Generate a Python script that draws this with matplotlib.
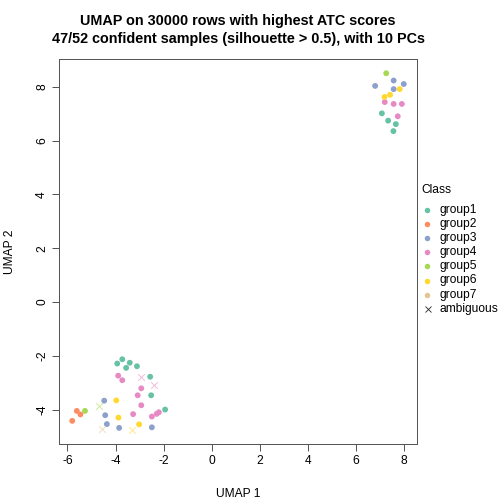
import matplotlib
matplotlib.use("Agg")
import matplotlib.pyplot as plt
from matplotlib.lines import Line2D

plt.rcParams['font.family'] = ['Liberation Sans', 'DejaVu Sans']

classes = ["group1", "group2", "group3", "group4", "group5", "group6", "group7"]
colors = ["#66C2A5", "#FC8D62", "#8DA0CB", "#E78AC3", "#A6D854", "#FFD92F", "#E5C494"]

# confident samples
g1_x = [7.07, 7.33, 7.65, 7.55, -3.72, -3.93, -3.41, -3.56, -3.11, -2.56, -2.52, -1.94]
g1_y = [7.01, 6.74, 6.61, 6.35, -2.13, -2.29, -2.26, -2.45, -2.39, -2.78, -3.47, -4.00]
g2_x = [-5.61, -5.46, -5.80]
g2_y = [-4.05, -4.18, -4.42]
g3_x = [7.56, 7.98, 6.79, 7.56, -4.47, -4.43, -4.36, -3.85, -2.49]
g3_y = [8.23, 8.10, 8.03, 7.91, -3.67, -4.21, -4.54, -4.68, -4.66]
g4_x = [7.19, 7.56, 7.90, 7.73, -3.89, -3.72, -2.93, -3.08, -2.93, -2.20, -2.29, -2.49, -3.27]
g4_y = [7.43, 7.36, 7.36, 6.90, -2.74, -2.91, -3.21, -3.47, -3.84, -4.10, -4.16, -4.26, -4.17]
g5_x = [7.25, -5.27]
g5_y = [8.50, -4.05]
g6_x = [7.81, 7.41, 7.18, -3.97, -3.88, -3.02]
g6_y = [7.91, 7.70, 7.62, -3.66, -4.30, -4.55]
g7_x = []
g7_y = []

# ambiguous samples (shown with their predicted class colour)
amb_x = [-4.69, -4.56, -2.95, -2.39, -3.32]
amb_y = [-3.86, -4.72, -2.79, -3.10, -4.77]
amb_class = ["group5", "group7", "group4", "group4", "group6"]

xticks = [-6, -4, -2, 0, 2, 4, 6, 8]
yticks = [-4, -2, 0, 2, 4, 6, 8]

fig = plt.figure(figsize=(7, 7), dpi=72)
W = H = 504
l, r, t, b = 59, 417, 59, 444
ax = fig.add_axes([l / W, 1 - b / H, (r - l) / W, (b - t) / H])

xs = [g1_x, g2_x, g3_x, g4_x, g5_x, g6_x, g7_x]
ys = [g1_y, g2_y, g3_y, g4_y, g5_y, g6_y, g7_y]
for x, y, c in zip(xs, ys, colors):
    if x:
        ax.scatter(x, y, s=34, color=c, edgecolors='none', zorder=3)
for x, y, cl in zip(amb_x, amb_y, amb_class):
    ax.scatter([x], [y], s=45, marker='x', color=colors[classes.index(cl)],
               alpha=0.55, linewidths=1.0, zorder=3)

ax.set_xlim(-6.35, 8.53)
ax.set_ylim(-5.28, 9.03)
ax.set_xticks(xticks)
ax.set_yticks(yticks)
ax.set_xticklabels([str(v) for v in xticks], fontsize=12)
ax.set_yticklabels([str(v) for v in yticks], fontsize=12, rotation=90, va='center')
ax.tick_params(length=7, width=1, color='#555555', pad=4)
for s in ax.spines.values():
    s.set_color('#555555')
    s.set_linewidth(1)

fig.text((l + r) / 2 / W, 1 - 494 / H, "UMAP 1", ha='center', va='center', fontsize=12)
fig.text(10 / W, 1 - (t + b) / 2 / H, "UMAP 2", ha='center', va='center', fontsize=12, rotation=90)

fig.text((l + r) / 2 / W, 1 - 20.5 / H, "UMAP on 30000 rows with highest ATC scores",
         ha='center', va='center', fontsize=14.4, fontweight='bold')
fig.text((l + r) / 2 / W, 1 - 39.5 / H, "47/52 confident samples (silhouette > 0.5), with 10 PCs",
         ha='center', va='center', fontsize=14.4, fontweight='bold')

# legend
fig.text(421 / W, 1 - 190 / H, "Class", ha='left', va='center', fontsize=12)
labels = classes + ["ambiguous"]
for i, lab in enumerate(labels):
    yy = 1 - (210 + 14.1 * i) / H
    if i < len(classes):
        fig.add_artist(Line2D([427 / W], [yy], marker='o', markersize=5.5, color=colors[i],
                              markeredgewidth=0, linestyle='none'))
    else:
        fig.add_artist(Line2D([427.5 / W], [yy], marker='x', markersize=6, color='#333333',
                              markeredgewidth=0.9, linestyle='none'))
    fig.text(439 / W, yy, lab, ha='left', va='center', fontsize=12)

fig.savefig("out.png", dpi=72)
